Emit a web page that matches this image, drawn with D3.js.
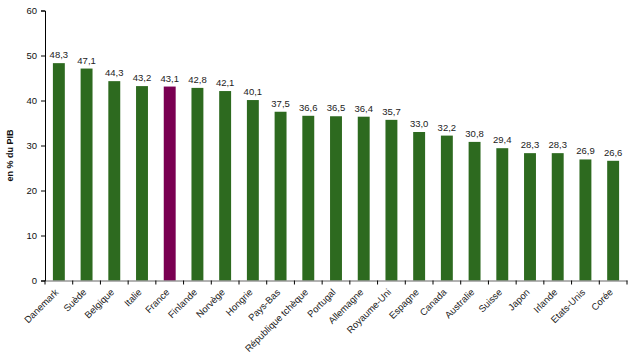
<!DOCTYPE html>
<html><head><meta charset="utf-8">
<script src="https://cdn.jsdelivr.net/npm/d3@7"></script>
<style>body{margin:0;background:#fff}svg{display:block;font-family:"Liberation Sans",Arial,sans-serif}</style>
</head><body>
<svg id="c" width="632" height="361"></svg>
<script>
const countries = ["Danemark","Suède","Belgique","Italie","France","Finlande","Norvège","Hongrie","Pays-Bas","République tchèque","Portugal","Allemagne","Royaume-Uni","Espagne","Canada","Australie","Suisse","Japon","Irlande","Etats-Unis","Corée"];
const values = [48.3,47.1,44.3,43.2,43.1,42.8,42.1,40.1,37.5,36.6,36.5,36.4,35.7,33.0,32.2,30.8,29.4,28.3,28.3,26.9,26.6];
const highlight = ["France"];
const yTicks = [0,10,20,30,40,50,60];
const yTitle = "en % du PIB";

(function(){
const svg = d3.select("#c");
const mLeft = 45, mRight = 627, mTop = 10.5, mBottom = 280.5;
const x = d3.scaleBand().domain(countries).range([mLeft, mRight]).paddingInner(0.57).paddingOuter(0.285);
const y = d3.scaleLinear().domain([0,60]).range([mBottom, mTop]);
const fmt = v => v.toFixed(1).replace(".", ",");

svg.append("g").selectAll("rect").data(countries).join("rect")
  .attr("x", d => x(d)).attr("width", x.bandwidth())
  .attr("y", (d,i) => y(values[i])).attr("height", (d,i) => y(0) - y(values[i]))
  .attr("fill", d => highlight.includes(d) ? "#7a0052" : "#2d6a1f");

svg.append("g").selectAll("text").data(countries).join("text")
  .attr("x", d => x(d) + x.bandwidth()/2).attr("y", (d,i) => y(values[i]) - 5)
  .attr("text-anchor","middle").attr("font-size","9.5px").attr("fill","#222")
  .text((d,i) => fmt(values[i]));

const ya = svg.append("g").attr("transform", `translate(${mLeft},0)`)
  .call(d3.axisLeft(y).tickValues(yTicks).tickSize(4).tickPadding(4));
ya.select(".domain").attr("stroke","#000");
ya.selectAll("text").attr("font-size","9.5px").attr("fill","#111").style("font-family","inherit");

const xa = svg.append("g").attr("transform", `translate(0,${mBottom})`)
  .call(d3.axisBottom(x).tickSize(0).tickFormat(""));
xa.select(".domain").attr("stroke","#666");
const bounds = d3.range(countries.length + 1).map(i => mLeft + i * (mRight - mLeft) / countries.length);
svg.append("g").selectAll("line").data(bounds).join("line")
  .attr("x1", d => d).attr("x2", d => d).attr("y1", mBottom).attr("y2", mBottom + 4)
  .attr("stroke","#000");

svg.append("g").selectAll("text").data(countries).join("text")
  .attr("transform", d => `translate(${x(d) + x.bandwidth()/2 - 2},${mBottom + 10}) rotate(-45)`)
  .attr("text-anchor","end").attr("dy","0.35em").attr("font-size","9.5px").attr("fill","#222")
  .text(d => d);

svg.append("text")
  .attr("transform", `translate(13,${(mTop+mBottom)/2 + 10}) rotate(-90)`)
  .attr("text-anchor","middle").attr("font-size","9px").attr("font-weight","bold").attr("fill","#111")
  .text(yTitle);
})();
</script>
</body></html>
